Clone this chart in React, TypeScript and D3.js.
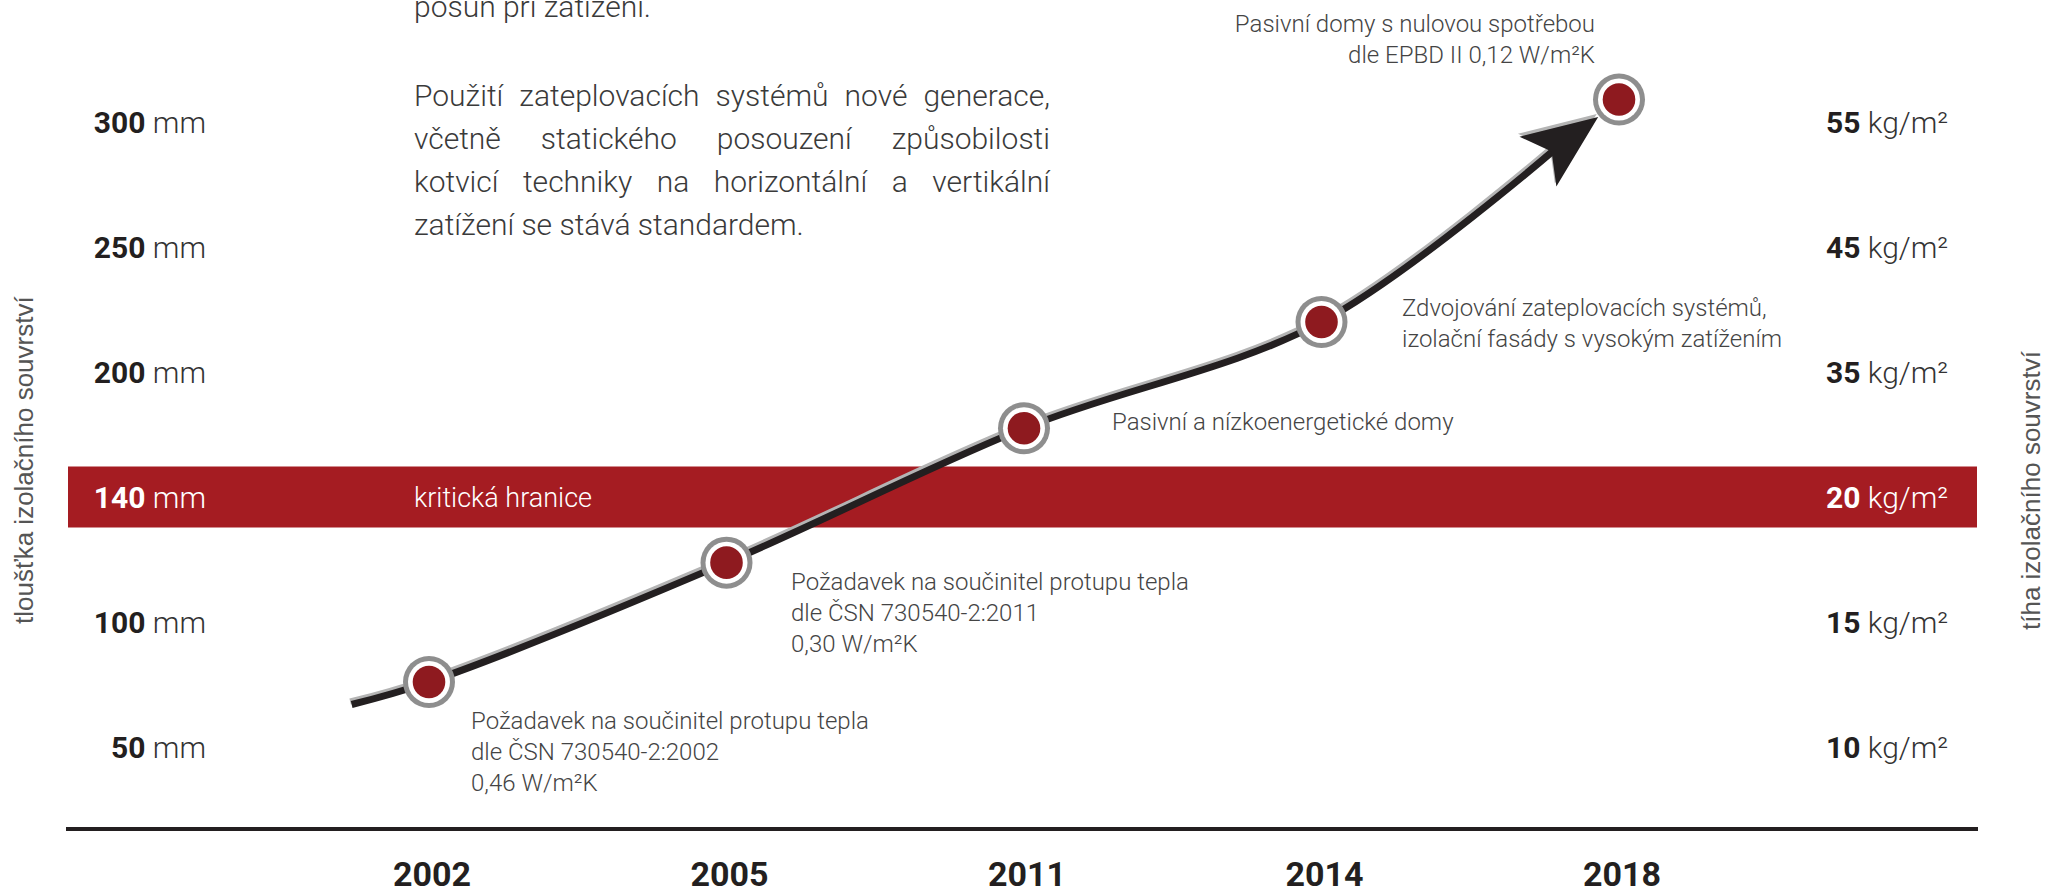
import React, { useEffect, useRef } from "react";
import * as d3 from "d3";

// ---------- data ----------
const years = ["2002", "2005", "2011", "2014", "2018"];
const thicknessMm = [76, 119, 173, 220, 309];
const leftTickValues = [300, 250, 200, 140, 100, 50];
const leftTickUnit = " mm";
const rightTickValues = [55, 45, 35, 20, 15, 10];
const rightTickUnit = " kg/m²";
const criticalMm = 140;
const criticalLabel = "kritická hranice";
const curveLeadIn = { pos: -0.26, mm: 67 };
const arrowTip = { pos: 3.93, mm: 302 };
const leftAxisTitle = "tloušťka izolačního souvrství";
const rightAxisTitle = "tíha izolačního souvrství";
const previousParagraphTail = "posun při zatížení.";
const paragraphLines = [
  "Použití zateplovacích systémů nové generace,",
  "včetně statického posouzení způsobilosti",
  "kotvicí techniky na horizontální a vertikální",
  "zatížení se stává standardem.",
];
const annotation2002 = [
  "Požadavek na součinitel protupu tepla",
  "dle ČSN 730540-2:2002",
  "0,46 W/m²K",
];
const annotation2005 = [
  "Požadavek na součinitel protupu tepla",
  "dle ČSN 730540-2:2011",
  "0,30 W/m²K",
];
const annotation2011 = ["Pasivní a nízkoenergetické domy"];
const annotation2014 = [
  "Zdvojování zateplovacích systémů,",
  "izolační fasády s vysokým zatížením",
];
const annotation2018 = [
  "Pasivní domy s nulovou spotřebou",
  "dle EPBD II 0,12 W/m²K",
];

const W = 2046;
const H = 889;
const LIGHT = "Roboto, 'Liberation Sans', Arial, sans-serif";
const BOLD = "Roboto, 'Liberation Sans', Arial, sans-serif";

export default function App() {
  const ref = useRef<SVGSVGElement | null>(null);

  useEffect(() => {
    const svg = d3.select(ref.current);
    svg.selectAll("*").remove();

    const x = d3.scaleLinear().domain([0, years.length - 1]).range([429, 1619]);
    const yPoint = d3
      .scalePoint<number>()
      .domain(leftTickValues)
      .range([122, 747]);
    const y = d3
      .scaleLinear()
      .domain(leftTickValues)
      .range(leftTickValues.map((v) => yPoint(v) as number));

    // critical band
    const bandHalf = 30.5;
    svg
      .append("rect")
      .attr("x", 68)
      .attr("width", 1977 - 68)
      .attr("y", y(criticalMm) - bandHalf)
      .attr("height", bandHalf * 2)
      .attr("fill", "#a51c22");

    svg
      .append("text")
      .attr("x", 414)
      .attr("y", y(criticalMm) + 10)
      .attr("font-family", LIGHT)
      .attr("font-weight", 300)
      .attr("font-size", 27)
      .attr("fill", "#ffffff")
      .text(criticalLabel);

    // bottom axis line
    svg
      .append("line")
      .attr("x1", 66)
      .attr("x2", 1978)
      .attr("y1", 829)
      .attr("y2", 829)
      .attr("stroke", "#231f20")
      .attr("stroke-width", 4);

    // year labels
    svg
      .append("g")
      .selectAll("text")
      .data(years)
      .join("text")
      .attr("x", (_, i) => x(i) + 3)
      .attr("y", 886)
      .attr("text-anchor", "middle")
      .attr("font-family", BOLD)
      .attr("font-weight", 700)
      .attr("font-size", 34)
      .attr("fill", "#231f20")
      .text((d) => d);

    // left ticks
    const lt = svg
      .append("g")
      .selectAll("text")
      .data(leftTickValues)
      .join("text")
      .attr("x", 206)
      .attr("y", (d) => y(d) + 11)
      .attr("text-anchor", "end")
      .attr("font-size", 30)
      .attr("fill", (d) => (d === criticalMm ? "#ffffff" : "#231f20"));
    lt.append("tspan")
      .attr("font-family", BOLD)
      .attr("font-weight", 700)
      .text((d) => String(d));
    lt.append("tspan")
      .attr("font-family", LIGHT)
      .attr("font-weight", 300)
      .attr("fill", (d) => (d === criticalMm ? "#ffffff" : "#333333"))
      .text(leftTickUnit);

    // right ticks
    const rt = svg
      .append("g")
      .selectAll("text")
      .data(rightTickValues)
      .join("text")
      .attr("x", 1826)
      .attr("y", (_, i) => y(leftTickValues[i]) + 11)
      .attr("text-anchor", "start")
      .attr("font-size", 30)
      .attr("fill", (_, i) =>
        leftTickValues[i] === criticalMm ? "#ffffff" : "#231f20"
      );
    rt.append("tspan")
      .attr("font-family", BOLD)
      .attr("font-weight", 700)
      .text((d) => String(d));
    rt.append("tspan")
      .attr("font-family", LIGHT)
      .attr("font-weight", 300)
      .attr("fill", (_, i) =>
        leftTickValues[i] === criticalMm ? "#ffffff" : "#333333"
      )
      .text(rightTickUnit);

    // axis titles
    svg
      .append("text")
      .attr("transform", `translate(33,624) rotate(-90)`)
      .attr("font-family", "'Liberation Sans', Arial, sans-serif")
      .attr("font-size", 26)
      .attr("fill", "#555555")
      .text(leftAxisTitle);
    svg
      .append("text")
      .attr("transform", `translate(2040,630) rotate(-90)`)
      .attr("font-family", "'Liberation Sans', Arial, sans-serif")
      .attr("font-size", 26)
      .attr("fill", "#555555")
      .text(rightAxisTitle);

    // curve
    const pts: [number, number][] = [
      [x(curveLeadIn.pos), y(curveLeadIn.mm)],
      ...thicknessMm.slice(0, 4).map((m, i) => [x(i), y(m)] as [number, number]),
    ];
    const tip: [number, number] = [x(arrowTip.pos), y(arrowTip.mm)];
    const prev = pts[pts.length - 1];
    const dx = tip[0] - prev[0];
    const dy = tip[1] - prev[1];
    const len = Math.hypot(dx, dy);
    const ux = dx / len;
    const uy = dy / len;
    const nx = -uy;
    const ny = ux;
    const shaftEnd: [number, number] = [tip[0] - ux * 50, tip[1] - uy * 50];
    const linePts = [...pts, shaftEnd];
    const line = d3.line().curve(d3.curveCatmullRom.alpha(0.5));

    const headBack = 75;
    const notchBack = 58;
    const headHalf = 31;
    const head: [number, number][] = [
      tip,
      [tip[0] - ux * headBack + nx * headHalf, tip[1] - uy * headBack + ny * headHalf],
      [tip[0] - ux * notchBack, tip[1] - uy * notchBack],
      [tip[0] - ux * headBack - nx * headHalf, tip[1] - uy * headBack - ny * headHalf],
    ];
    const headPath = "M" + head.map((p) => p.join(",")).join("L") + "Z";

    const shadow = svg.append("g").attr("transform", "translate(-1.5,-3)");
    shadow
      .append("path")
      .attr("d", line(linePts) as string)
      .attr("fill", "none")
      .attr("stroke", "#b4b4b4")
      .attr("stroke-width", 6);
    shadow.append("path").attr("d", headPath).attr("fill", "#b4b4b4");

    svg
      .append("path")
      .attr("d", line(linePts) as string)
      .attr("fill", "none")
      .attr("stroke", "#231f20")
      .attr("stroke-width", 7);
    svg.append("path").attr("d", headPath).attr("fill", "#231f20");

    // points
    const pg = svg
      .append("g")
      .selectAll("g")
      .data(thicknessMm)
      .join("g")
      .attr("transform", (d, i) => `translate(${x(i)},${y(d)})`);
    pg.append("circle").attr("r", 26).attr("fill", "#8e8e8e");
    pg.append("circle").attr("r", 21).attr("fill", "#ffffff");
    pg.append("circle").attr("r", 16.3).attr("fill", "#8e1a1f");

    // annotations
    const annStyle = (sel: any) =>
      sel
        .attr("font-family", LIGHT)
        .attr("font-weight", 300)
        .attr("font-size", 24)
        .attr("fill", "#444444");
    const drawLines = (
      lines: string[],
      ax: number,
      ay: number,
      lh: number,
      anchor: string
    ) => {
      lines.forEach((t, i) => {
        annStyle(
          svg
            .append("text")
            .attr("x", ax)
            .attr("y", ay + i * lh)
            .attr("text-anchor", anchor)
        ).text(t);
      });
    };
    drawLines(annotation2002, 471, 729, 31, "start");
    drawLines(annotation2005, 791, 590, 31, "start");
    drawLines(annotation2011, 1112, 430, 31, "start");
    drawLines(annotation2014, 1402, 316, 31, "start");
    drawLines(annotation2018, 1595, 32, 31, "end");

    // paragraph
    const paraStyle = (sel: any) =>
      sel
        .attr("font-family", LIGHT)
        .attr("font-weight", 300)
        .attr("font-size", 30)
        .attr("fill", "#3a3a3a");
    const px0 = 414;
    const px1 = 1050;
    paraStyle(svg.append("text").attr("x", px0).attr("y", 17)).text(
      previousParagraphTail
    );
    paragraphLines.forEach((ln, li) => {
      const by = 106 + li * 43;
      if (li === paragraphLines.length - 1) {
        paraStyle(svg.append("text").attr("x", px0).attr("y", by)).text(ln);
        return;
      }
      const words = ln.split(" ");
      const nodes = words.map((w) =>
        paraStyle(svg.append("text").attr("y", by)).text(w)
      );
      const widths = nodes.map((n: any) =>
        (n.node() as SVGTextElement).getComputedTextLength()
      );
      const total = d3.sum(widths);
      const gap = (px1 - px0 - total) / (words.length - 1);
      let cx = px0;
      nodes.forEach((n: any, i: number) => {
        n.attr("x", cx);
        cx += widths[i] + gap;
      });
    });
  }, []);

  return (
    <svg
      ref={ref}
      width={W}
      height={H}
      style={{ position: "absolute", left: 0, top: 0, background: "#ffffff" }}
    />
  );
}
